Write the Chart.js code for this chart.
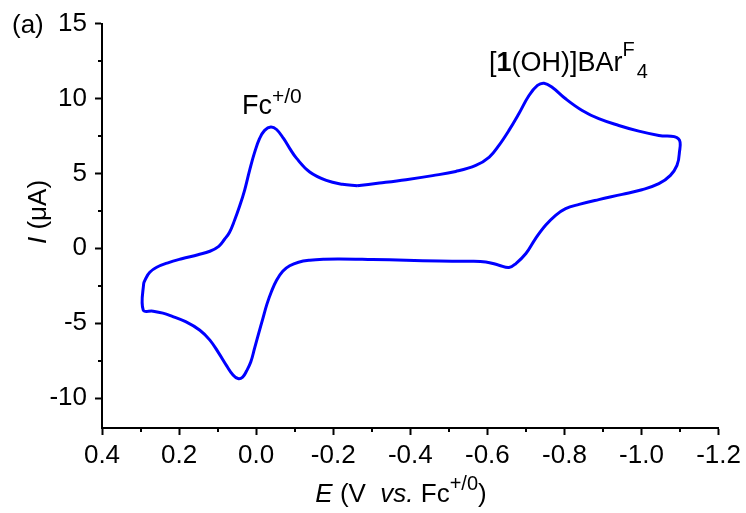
<!DOCTYPE html>
<html>
<head>
<meta charset="utf-8">
<script src="https://cdn.jsdelivr.net/npm/chart.js@4.4.1/dist/chart.umd.min.js"></script>
<style>
  html, body { margin: 0; padding: 0; background: #fff; }
</style>
</head>
<body>
<canvas id="cv" width="746" height="513"></canvas>
<script>
// CV trace (V vs Fc+/0, uA)
const potentialV = [
  -0.262, -0.320, -0.389, -0.458, -0.518, -0.570, -0.605, -0.630, -0.656, -0.682,
  -0.708, -0.730, -0.747, -0.768, -0.803, -0.846, -0.889, -0.941, -0.993, -1.045,
  -1.096, -1.098, -1.092, -1.075, -1.045, -1.001, -0.950, -0.889, -0.838, -0.803,
  -0.777, -0.751, -0.725, -0.700, -0.674, -0.656, -0.630, -0.596, -0.544, -0.475,
  -0.389, -0.302, -0.216, -0.177, -0.139, -0.110, -0.087, -0.069, -0.053, -0.040,
  -0.028, -0.017, -0.006, 0.004, 0.014, 0.025, 0.035, 0.047, 0.061, 0.076,
  0.097, 0.120, 0.146, 0.183, 0.219, 0.242, 0.268, 0.293, 0.292, 0.286,
  0.276, 0.258, 0.229, 0.193, 0.151, 0.120, 0.097, 0.082, 0.069, 0.056,
  0.043, 0.030, 0.017, 0.004, -0.009, -0.022, -0.038, -0.053, -0.071, -0.087,
  -0.105, -0.139, -0.182, -0.224, -0.262
];
const currentUA = [
  4.17, 4.35, 4.58, 4.85, 5.13, 5.53, 6.09, 6.87, 7.87, 9.00,
  10.20, 10.87, 11.02, 10.75, 9.98, 9.20, 8.65, 8.20, 7.82, 7.53,
  7.31, 6.31, 5.53, 4.87, 4.31, 3.91, 3.60, 3.25, 2.93, 2.65,
  2.20, 1.53, 0.65, -0.35, -1.02, -1.29, -1.13, -0.91, -0.87, -0.85,
  -0.80, -0.75, -0.71, -0.73, -0.80, -0.93, -1.17, -1.53, -2.13, -2.87,
  -3.73, -4.73, -5.73, -6.67, -7.60, -8.20, -8.60, -8.70, -8.43, -7.87,
  -7.00, -6.13, -5.47, -4.90, -4.53, -4.33, -4.20, -4.13, -2.40, -2.00,
  -1.60, -1.27, -0.97, -0.70, -0.43, -0.20, 0.13, 0.60, 1.07, 1.87,
  2.80, 3.87, 5.20, 6.40, 7.33, 7.87, 8.10, 7.93, 7.33, 6.67,
  6.00, 5.09, 4.53, 4.27, 4.17
];

const xTickValues = [0.4, 0.2, 0.0, -0.2, -0.4, -0.6, -0.8, -1.0, -1.2];
const xMinorTicks = [0.3, 0.1, -0.1, -0.3, -0.5, -0.7, -0.9, -1.1];
const yTickValues = [-10, -5, 0, 5, 10, 15];
const yMinorTicks = [-7.5, -2.5, 2.5, 7.5, 12.5];

const FONT = '"Liberation Sans", Arial, sans-serif';

// draw a row of text pieces with different fonts / offsets
function drawRuns(ctx, runs, x, y, center) {
  let total = 0;
  runs.forEach(r => {
    ctx.font = r.font;
    r.w = ctx.measureText(r.text).width;
    total += r.w + (r.dx || 0);
  });
  let cx = center ? x - total / 2 : x;
  runs.forEach(r => {
    ctx.font = r.font;
    cx += (r.dx || 0);
    ctx.fillText(r.text, cx, y + (r.dy || 0));
    cx += r.w;
  });
}

const extras = {
  id: 'extras',
  afterDraw(chart) {
    const ctx = chart.ctx;
    const xs = chart.scales.x, ys = chart.scales.y;
    const area = chart.chartArea;

    // minor ticks
    ctx.save();
    ctx.strokeStyle = '#000';
    ctx.lineWidth = 2;
    ctx.beginPath();
    xMinorTicks.forEach(v => {
      const px = Math.round(xs.getPixelForValue(v));
      ctx.moveTo(px, area.bottom);
      ctx.lineTo(px, area.bottom + 4);
    });
    yMinorTicks.forEach(v => {
      const py = Math.round(ys.getPixelForValue(v));
      ctx.moveTo(area.left, py);
      ctx.lineTo(area.left - 4, py);
    });
    ctx.stroke();

    ctx.fillStyle = '#000';
    ctx.textBaseline = 'alphabetic';
    ctx.textAlign = 'left';

    // panel label
    ctx.font = '26px ' + FONT;
    ctx.fillText('(a)', 12, 33);

    // peak labels
    drawRuns(ctx, [
      { text: 'Fc', font: '27px ' + FONT },
      { text: '+/0', font: '21px ' + FONT, dy: -11 }
    ], 242, 114, false);

    drawRuns(ctx, [
      { text: '[', font: '27px ' + FONT },
      { text: '1', font: 'bold 27px ' + FONT },
      { text: '(OH)]BAr', font: '27px ' + FONT },
      { text: 'F', font: '20px ' + FONT, dy: -15 },
      { text: '4', font: '20px ' + FONT, dy: 7, dx: 2 }
    ], 489, 71, false);

    // x axis title
    drawRuns(ctx, [
      { text: 'E', font: 'italic 26px ' + FONT },
      { text: ' (V  ', font: '26px ' + FONT },
      { text: 'vs.', font: 'italic 26px ' + FONT },
      { text: ' Fc', font: '26px ' + FONT },
      { text: '+/0', font: '20px ' + FONT, dy: -12 },
      { text: ')', font: '26px ' + FONT }
    ], 401, 502, true);

    // y axis title
    ctx.translate(46, 212);
    ctx.rotate(-Math.PI / 2);
    drawRuns(ctx, [
      { text: 'I', font: 'italic 26px ' + FONT },
      { text: ' (\u03bcA)', font: '26px ' + FONT }
    ], 0, 0, true);
    ctx.restore();
  }
};

new Chart(document.getElementById('cv'), {
  type: 'scatter',
  data: {
    datasets: [{
      data: potentialV.map((v, i) => ({ x: v, y: currentUA[i] })),
      showLine: true,
      borderColor: 'rgb(0, 0, 255)',
      borderWidth: 3,
      pointRadius: 0,
      tension: 0.4,
      fill: false
    }]
  },
  options: {
    responsive: false,
    animation: false,
    layout: {
      autoPadding: false,
      padding: { top: 23, right: 26, left: 0, bottom: 0 }
    },
    plugins: {
      legend: { display: false },
      tooltip: { enabled: false }
    },
    scales: {
      x: {
        type: 'linear',
        reverse: true,
        min: -1.2,
        max: 0.4,
        afterBuildTicks: s => { s.ticks = xTickValues.map(v => ({ value: v })); },
        afterFit: s => { s.height = 85; },
        border: { display: true, color: '#000', width: 2 },
        grid: { display: true, drawOnChartArea: false, drawTicks: true, tickLength: 7, tickColor: '#000', tickWidth: 2 },
        ticks: {
          color: '#000',
          padding: 5,
          maxRotation: 0,
          font: { family: FONT, size: 26 },
          callback: v => {
            const r = Math.round(v * 10) / 10;
            return r === 0 ? '0.0' : r.toFixed(1);
          }
        }
      },
      y: {
        type: 'linear',
        min: -12,
        max: 15,
        afterBuildTicks: s => { s.ticks = yTickValues.map(v => ({ value: v })); },
        afterFit: s => { s.width = 102; },
        border: { display: true, color: '#000', width: 2 },
        grid: { display: true, drawOnChartArea: false, drawTicks: true, tickLength: 7, tickColor: '#000', tickWidth: 2 },
        ticks: {
          color: '#000',
          padding: 8,
          font: { family: FONT, size: 26 },
          callback: v => String(v)
        }
      }
    }
  },
  plugins: [extras]
});
</script>
</body>
</html>
